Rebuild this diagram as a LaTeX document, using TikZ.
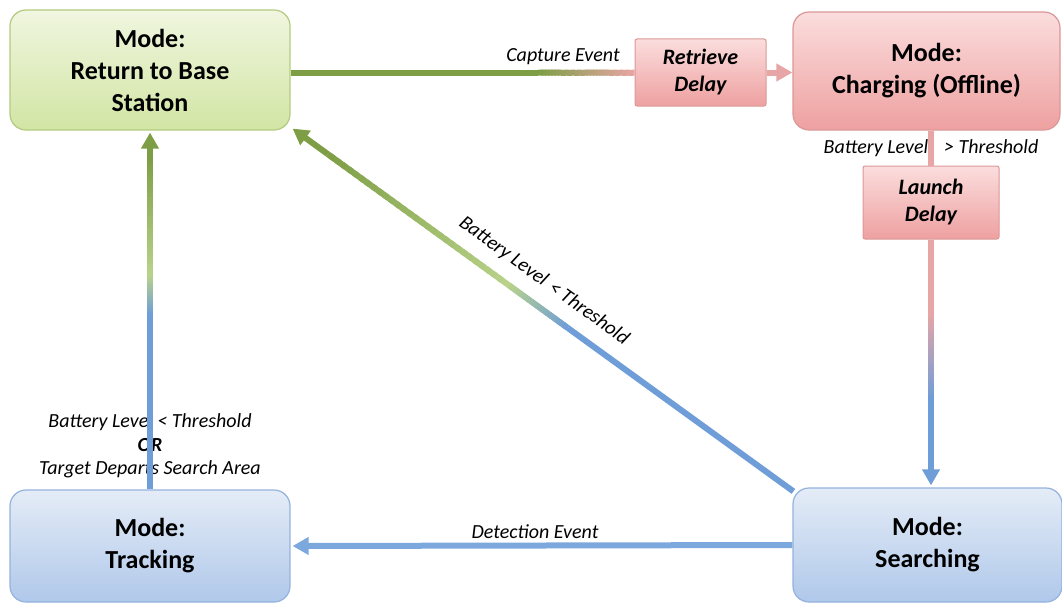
\documentclass[tikz,border=0pt]{standalone}
\usepackage{fontspec}
\setmainfont{Carlito}
\usetikzlibrary{calc,arrows.meta}
\definecolor{gD}{HTML}{7E9E46}
\definecolor{gL}{HTML}{B9D38A}
\definecolor{pk}{HTML}{E8A5A5}
\definecolor{bl}{HTML}{6F9DD8}
\definecolor{blL}{HTML}{7CA8DE}
\definecolor{gT}{HTML}{F0F6E0}
\definecolor{gBo}{HTML}{D2E5A4}
\definecolor{gB}{HTML}{B3CB80}
\definecolor{pT}{HTML}{FBDDDD}
\definecolor{pBo}{HTML}{EEA0A0}
\definecolor{pB}{HTML}{DA9897}
\definecolor{bT}{HTML}{E4ECF7}
\definecolor{bBo}{HTML}{B0C8EA}
\definecolor{bB}{HTML}{94B2DE}
\newcommand\gradline[4]{%
  \foreach \i in {0,...,29}{%
    \pgfmathsetmacro\ta{\i/30}%
    \pgfmathsetmacro\tb{min((\i+1.6)/30,1)}%
    \pgfmathtruncatemacro\pp{round(100*(\i+0.5)/30)}%
    \draw[conn, draw=#4!\pp!#3] ($(#1)!\ta!(#2)$) -- ($(#1)!\tb!(#2)$);
  }}
\tikzset{
  mode/.style={rectangle, rounded corners=16pt, line width=1.2pt, align=center,
    font=\bfseries\fontsize{26}{32}\selectfont, inner sep=0pt},
  greenbox/.style={mode, draw=gB, top color=gT, bottom color=gBo},
  pinkbox/.style={mode, draw=pB, top color=pT, bottom color=pBo},
  bluebox/.style={mode, draw=bB, top color=bT, bottom color=bBo},
  delaybox/.style={rectangle, rounded corners=2pt, draw=pB, line width=1pt,
    top color=pT, bottom color=pBo, align=center, inner sep=0pt,
    font=\bfseries\itshape\fontsize{22}{27}\selectfont},
  lbl/.style={font=\itshape\fontsize{20}{23.5}\selectfont, inner sep=0pt, align=center},
  conn/.style={line width=6pt, line cap=butt},
  tip/.style={-{Triangle[length=16pt,width=17pt]}},
}
\begin{document}
\begin{tikzpicture}[x=1pt,y=-1pt]
\useasboundingbox (0,0) rectangle (1062,602);
% boxes
\node[greenbox, minimum width=280pt, minimum height=120pt] (rtb) at (150,70) {Mode:\\Return to Base\\Station};
\node[pinkbox, minimum width=267pt, minimum height=118pt] (chg) at (926.5,71) {Mode:\\Charging (Offline)};
\node[bluebox, minimum width=280pt, minimum height=112pt] (trk) at (150,546) {Mode:\\Tracking};
\node[bluebox, minimum width=269pt, minimum height=114pt] (srch) at (927.5,545) {Mode:\\Searching};
\node[delaybox, minimum width=131pt, minimum height=67pt] (ret) at (700.5,72.5) {Retrieve\\Delay};
\node[delaybox, minimum width=136pt, minimum height=73pt] (lau) at (931,202.5) {Launch\\Delay};
% labels
\node[lbl, anchor=base] (lcap) at (563,62) {Capture Event};
\node[lbl, anchor=base] (lbat) at (931,153) {Battery Level\hspace{16pt}> Threshold};
\node[lbl, rotate=-35.9] (ldiag) at (544,281) {Battery Level\hspace{6pt}< Threshold};
\node[lbl, anchor=base] (ldet) at (535,538) {Detection Event};
\node[lbl] (ltrk) at (150,446) {Battery Level < Threshold\\\textbf{OR}\\Target Departs Search Area};
% connector 1: RTB -> Retrieve -> Charging
\coordinate (c0) at (rtb.east |- ret.west);
\coordinate (c1) at ($(c0)!0.72!(ret.west)$);
\draw[conn, gD] (c0) -- (c1);
\gradline{c1}{ret.west}{gD}{pk}
\draw[conn, tip, pk] (ret.east) -- (ret.east -| chg.west);
% connector 2: Charging -> Launch -> Searching
\draw[conn, pk] (lau.north |- chg.south) -- (lau.north);
\coordinate (s1) at (lau.south);
\coordinate (s4) at ($(lau.south |- srch.north)+(0,-2)$);
\coordinate (s2) at ($(s1)!0.3!(s4)$);
\coordinate (s3) at ($(s1)!0.65!(s4)$);
\draw[conn, pk] (s1) -- (s2);
\gradline{s2}{s3}{pk}{bl}
\draw[conn, tip, bl] (s3) -- (s4);
% connector 3: Searching -> RTB diagonal
\coordinate (d0) at ($(srch.north west)+(1,4)$);
\coordinate (d4) at ($(rtb.south east)+(2,-2)$);
\coordinate (d1) at ($(d0)!0.45!(d4)$);
\coordinate (d2) at ($(d0)!0.57!(d4)$);
\coordinate (d3) at ($(d0)!0.93!(d4)$);
\draw[conn, bl] (d0) -- (d1);
\gradline{d1}{d2}{bl}{gL}
\gradline{d2}{d3}{gL}{gD}
\draw[conn, tip, gD] (d3) -- (d4);
% connector 4: Searching -> Tracking
\draw[conn, tip, blL] (srch.west) -- ($(trk.east)+(2,0)$);
% connector 5: Tracking -> RTB
\coordinate (v0) at (trk.north);
\coordinate (v4) at ($(rtb.south)+(0,2)$);
\coordinate (v1) at ($(v0)!0.49!(v4)$);
\coordinate (v2) at ($(v0)!0.6!(v4)$);
\coordinate (v3) at ($(v0)!0.93!(v4)$);
\draw[conn, bl] (v0) -- (v1);
\gradline{v1}{v2}{bl}{gL}
\gradline{v2}{v3}{gL}{gD}
\draw[conn, tip, gD] (v3) -- (v4);
\end{tikzpicture}
\end{document}
